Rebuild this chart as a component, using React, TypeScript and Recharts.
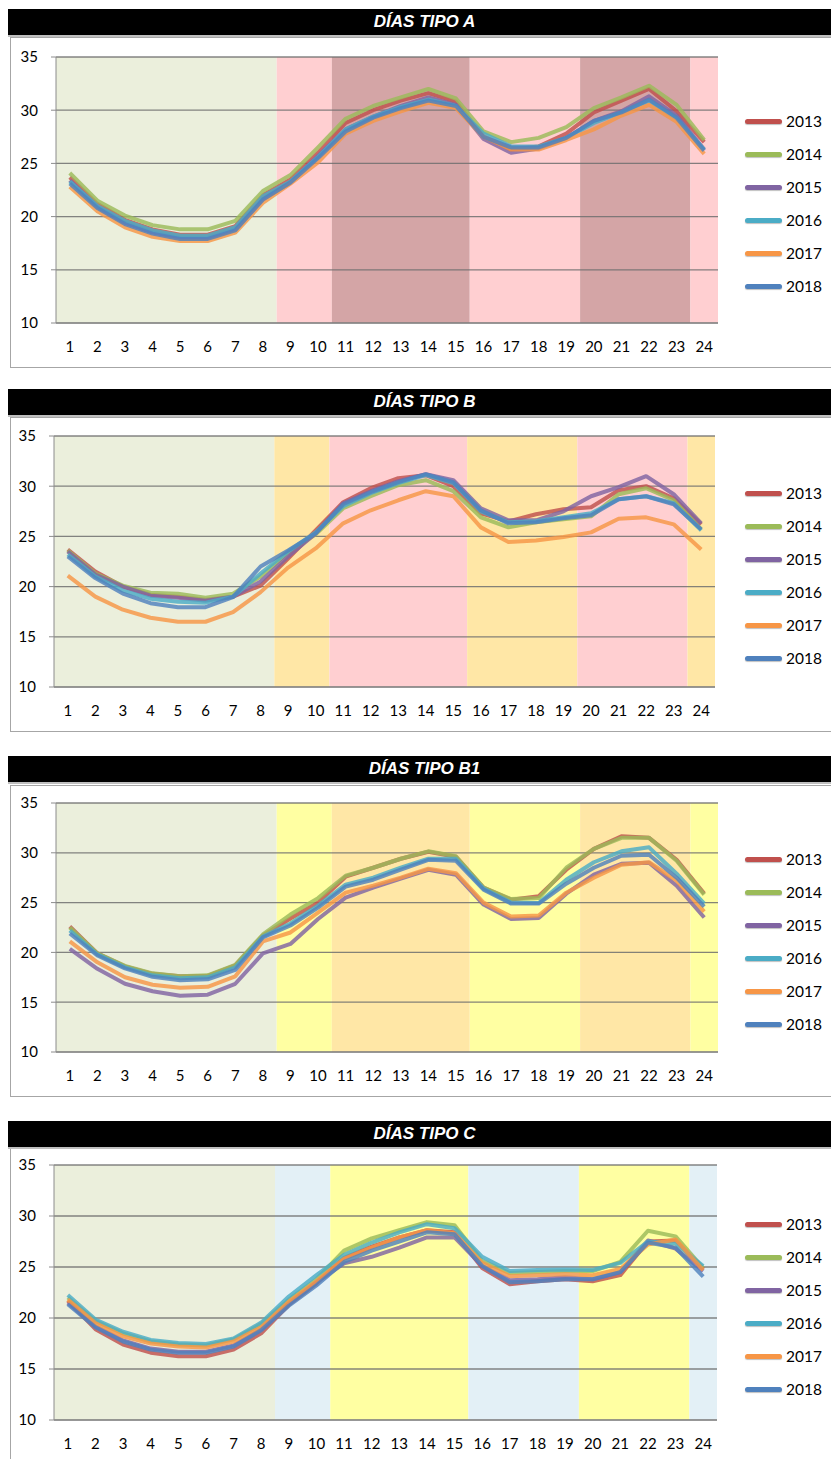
import React from 'react'
import { LineChart, Line, XAxis, YAxis, ReferenceArea, ReferenceLine, Legend } from 'recharts'

const HOURS = [1, 2, 3, 4, 5, 6, 7, 8, 9, 10, 11, 12, 13, 14, 15, 16, 17, 18, 19, 20, 21, 22, 23, 24]
const YEARS = ['2013', '2014', '2015', '2016', '2017', '2018']
const Y_TICKS = [10, 15, 20, 25, 30, 35]

// tariff periods over the day (hours)
const PERIODS = [
  { from: 1, to: 8, kind: 'valle' },
  { from: 9, to: 10, kind: 'llano' },
  { from: 11, to: 15, kind: 'punta' },
  { from: 16, to: 19, kind: 'llano' },
  { from: 20, to: 23, kind: 'punta' },
  { from: 24, to: 24, kind: 'llano' },
]

// DÍAS TIPO A
const a2013 = [23.7, 21.2, 19.7, 18.8, 18.3, 18.3, 19.1, 22.0, 23.5, 26.0, 28.8, 30.0, 30.9, 31.6, 30.8, 27.5, 26.3, 26.6, 27.8, 29.8, 30.9, 32.0, 29.9, 27.0]
const a2014 = [24.1, 21.5, 20.1, 19.2, 18.8, 18.8, 19.6, 22.4, 23.9, 26.5, 29.2, 30.4, 31.2, 32.0, 31.1, 28.0, 27.0, 27.4, 28.4, 30.2, 31.2, 32.3, 30.5, 27.2]
const a2015 = [23.4, 20.9, 19.4, 18.5, 18.0, 18.0, 18.8, 21.6, 23.2, 25.7, 28.2, 29.4, 30.4, 31.2, 30.5, 27.3, 26.0, 26.4, 27.4, 29.0, 29.9, 31.3, 29.5, 26.3]
const a2016 = [23.3, 21.0, 19.6, 18.7, 18.2, 18.2, 19.0, 21.9, 23.3, 25.6, 28.2, 29.4, 30.3, 31.0, 30.4, 27.8, 26.6, 26.6, 27.4, 28.8, 29.8, 30.9, 29.2, 26.3]
const a2017 = [22.8, 20.5, 19.0, 18.1, 17.7, 17.7, 18.5, 21.3, 23.1, 25.1, 27.8, 29.0, 29.9, 30.7, 30.2, 27.5, 26.3, 26.3, 27.2, 28.2, 29.5, 30.5, 28.9, 25.9]
const a2018 = [23.1, 20.8, 19.3, 18.4, 17.9, 17.9, 18.7, 21.6, 23.2, 25.5, 28.0, 29.3, 30.2, 30.9, 30.4, 27.5, 26.5, 26.5, 27.4, 29.0, 29.8, 31.0, 29.3, 26.2]

// DÍAS TIPO B
const b2013 = [23.7, 21.5, 20.0, 19.2, 19.0, 18.7, 19.0, 20.1, 22.8, 25.6, 28.4, 29.8, 30.8, 31.1, 30.0, 27.3, 26.5, 27.2, 27.7, 27.9, 29.6, 30.0, 28.8, 26.2]
const b2014 = [23.6, 21.3, 20.1, 19.4, 19.3, 18.9, 19.3, 21.0, 23.4, 25.2, 27.8, 29.0, 30.1, 30.6, 29.5, 26.9, 25.9, 26.4, 26.7, 27.0, 29.2, 29.8, 28.6, 25.7]
const b2015 = [23.5, 21.2, 20.0, 19.1, 18.9, 18.6, 19.0, 20.5, 23.0, 25.3, 28.3, 29.5, 30.5, 31.2, 30.6, 27.8, 26.6, 26.6, 27.5, 29.0, 29.9, 31.0, 29.2, 26.3]
const b2016 = [23.2, 21.0, 19.6, 18.8, 18.5, 18.4, 19.0, 21.3, 23.5, 25.4, 28.0, 29.3, 30.3, 31.1, 30.3, 27.5, 26.4, 26.5, 26.9, 27.3, 28.7, 29.0, 28.3, 25.6]
const b2017 = [21.1, 19.0, 17.7, 16.9, 16.5, 16.5, 17.45, 19.45, 21.9, 23.8, 26.3, 27.6, 28.6, 29.5, 29.0, 25.9, 24.45, 24.6, 24.95, 25.4, 26.75, 26.9, 26.2, 23.7]
const b2018 = [23.0, 20.85, 19.3, 18.35, 17.95, 17.95, 18.95, 22.0, 23.6, 25.3, 28.2, 29.4, 30.4, 31.2, 30.4, 27.6, 26.3, 26.4, 26.8, 27.1, 28.7, 29.0, 28.2, 25.7]

// DÍAS TIPO B1
const b1_2013 = [22.6, 19.9, 18.6, 17.85, 17.6, 17.65, 18.7, 21.7, 23.4, 25.0, 27.6, 28.5, 29.4, 30.1, 29.6, 26.5, 25.3, 25.65, 28.3, 30.4, 31.65, 31.5, 29.3, 25.9]
const b1_2014 = [22.5, 19.9, 18.65, 17.9, 17.6, 17.7, 18.75, 21.8, 23.8, 25.45, 27.7, 28.5, 29.4, 30.15, 29.65, 26.5, 25.35, 25.45, 28.5, 30.4, 31.5, 31.5, 29.2, 25.8]
const b1_2015 = [20.35, 18.35, 16.85, 16.1, 15.65, 15.75, 16.85, 19.9, 20.85, 23.35, 25.5, 26.5, 27.4, 28.3, 27.8, 24.8, 23.35, 23.45, 25.9, 27.8, 28.9, 29.0, 26.7, 23.5]
const b1_2016 = [22.2, 19.8, 18.5, 17.7, 17.4, 17.5, 18.5, 21.6, 22.9, 24.7, 26.8, 27.5, 28.5, 29.4, 29.4, 26.4, 25.0, 24.95, 27.3, 29.05, 30.15, 30.55, 27.9, 24.9]
const b1_2017 = [21.1, 19.0, 17.5, 16.75, 16.45, 16.55, 17.6, 21.1, 22.0, 24.0, 26.0, 26.7, 27.5, 28.4, 27.95, 25.0, 23.6, 23.7, 26.0, 27.5, 28.8, 29.05, 27.2, 24.1]
const b1_2018 = [21.9, 19.7, 18.4, 17.55, 17.2, 17.3, 18.25, 21.5, 22.7, 24.5, 26.6, 27.3, 28.3, 29.3, 29.2, 26.3, 24.9, 24.9, 26.9, 28.5, 29.7, 29.8, 27.5, 24.6]

// DÍAS TIPO C
const c2013 = [21.7, 18.9, 17.4, 16.6, 16.25, 16.25, 16.9, 18.5, 21.3, 23.4, 25.9, 27.0, 27.9, 28.6, 28.4, 24.9, 23.3, 23.6, 23.8, 23.6, 24.2, 27.5, 27.6, 24.8]
const c2014 = [22.0, 19.7, 18.5, 17.7, 17.4, 17.3, 17.9, 19.4, 21.8, 23.8, 26.6, 27.8, 28.6, 29.4, 29.1, 25.6, 24.4, 24.5, 24.6, 24.6, 25.5, 28.55, 28.0, 24.9]
const c2015 = [21.5, 19.2, 17.8, 17.0, 16.7, 16.7, 17.3, 18.9, 21.4, 23.5, 25.35, 26.0, 26.9, 27.9, 27.9, 25.1, 23.7, 23.8, 24.0, 23.8, 24.5, 27.6, 26.8, 24.6]
const c2016 = [22.25, 19.85, 18.65, 17.85, 17.55, 17.45, 18.0, 19.55, 22.1, 24.2, 26.2, 27.4, 28.4, 29.2, 28.8, 26.0, 24.6, 24.7, 24.75, 24.7, 25.4, 27.5, 27.3, 25.1]
const c2017 = [21.8, 19.5, 18.2, 17.5, 17.2, 17.1, 17.7, 19.1, 21.6, 23.6, 25.8, 26.9, 27.9, 28.6, 28.3, 25.4, 24.1, 24.2, 24.3, 24.2, 24.8, 27.2, 27.7, 24.7]
const c2018 = [21.35, 19.1, 17.7, 16.9, 16.6, 16.6, 17.2, 18.8, 21.2, 23.2, 25.5, 26.6, 27.5, 28.4, 28.2, 25.1, 23.5, 23.6, 23.8, 23.8, 24.5, 27.4, 26.9, 24.05]

const YEAR_COLORS: Record<string, string> = {
  '2013': '#C0504D',
  '2014': '#9BBB59',
  '2015': '#8064A2',
  '2016': '#4BACC6',
  '2017': '#F79646',
  '2018': '#4F81BD',
}

const FONT = 'Lato, "Open Sans", sans-serif'
const PAGE_W = 831
const AXIS_GREY = '#8C8C8C'

type PanelProps = {
  title: string
  series: number[][]
  colors: Record<string, string>
  barTop: number
  boxTop: number
  boxBottom: number
  plotTop: number
  plotBottom: number
  plotLeft: number
  plotRight: number
  legendTop: number
}

function LegendBox({ payload }: any) {
  return (
    <div>
      {(payload || []).map((p: any) => (
        <div key={p.value} style={{ height: 33, display: 'flex', alignItems: 'center' }}>
          <span style={{
            width: 37, height: 5, borderRadius: 3, background: p.color, marginRight: 4,
            boxShadow: '0 1px 1px rgba(0,0,0,0.25)',
          }} />
          <span style={{ fontFamily: FONT, fontSize: 15.5, color: '#000' }}>{p.value}</span>
        </div>
      ))}
    </div>
  )
}

function Panel(props: PanelProps) {
  const { title, series, colors, barTop, boxTop, boxBottom, plotTop, plotBottom, plotLeft, plotRight, legendTop } = props
  const rows = HOURS.map((h, i) => {
    const row: Record<string, number> = { hour: h }
    YEARS.forEach((y, k) => { row[y] = series[k][i] })
    return row
  })
  // tick marks sit between hours, Excel style
  const edges = [...HOURS.map((h) => h - 0.5), 24.5]
  const chartTop = plotTop - 10
  const chartH = plotBottom - plotTop + 10 + 40

  return (
    <>
      <div style={{
        position: 'absolute', left: 10, top: boxTop, width: 840, height: boxBottom - boxTop,
        border: '1.5px solid #A6A6A6', boxSizing: 'border-box', background: '#fff',
      }} />
      <div style={{
        position: 'absolute', left: 8, top: barTop, width: 833, height: 26, background: '#000',
        color: '#fff', fontFamily: '"Liberation Sans", Arial, sans-serif', fontWeight: 'bold',
        fontStyle: 'italic', fontSize: 17, lineHeight: '26px', textAlign: 'center',
        borderBottom: '2px solid #BFBFBF',
      }}>{title}</div>
      <div style={{ position: 'absolute', left: 0, top: chartTop }}>
        <LineChart
          width={PAGE_W}
          height={chartH}
          data={rows}
          margin={{ top: 10, right: PAGE_W - plotRight, bottom: 0, left: plotLeft - 46 }}
        >
          <XAxis
            xAxisId="edge"
            type="number"
            dataKey="hour"
            domain={[0.5, 24.5]}
            ticks={edges}
            interval={0}
            tick={false}
            tickSize={5}
            height={1}
            axisLine={{ stroke: AXIS_GREY }}
            tickLine={{ stroke: AXIS_GREY }}
          />
          <XAxis
            xAxisId="h"
            type="number"
            dataKey="hour"
            domain={[0.5, 24.5]}
            ticks={HOURS}
            interval={0}
            tickSize={0}
            tickMargin={17}
            height={39}
            axisLine={false}
            tickLine={false}
            tick={{ fill: '#000', fontSize: 15, fontFamily: FONT }}
          />
          <YAxis
            type="number"
            domain={[10, 35]}
            ticks={Y_TICKS}
            interval={0}
            width={46}
            tickSize={5}
            tickMargin={13}
            axisLine={{ stroke: AXIS_GREY }}
            tickLine={{ stroke: AXIS_GREY }}
            tick={{ fill: '#000', fontSize: 15, fontFamily: FONT }}
          />
          {PERIODS.map((p) => (
            <ReferenceArea
              key={p.from}
              xAxisId="h"
              x1={p.from - 0.5}
              x2={p.to + 0.5}
              y1={10}
              y2={35}
              fill={colors[p.kind]}
              fillOpacity={1}
              stroke="none"
            />
          ))}
          {Y_TICKS.map((t) => (
            <ReferenceLine key={t} xAxisId="h" y={t} stroke="#6E6E6E" strokeOpacity={0.85} strokeWidth={1.3} />
          ))}
          {YEARS.map((y) => (
            <Line
              key={y}
              xAxisId="h"
              type="linear"
              dataKey={y}
              name={y}
              stroke={YEAR_COLORS[y]}
              strokeWidth={4}
              strokeOpacity={0.82}
              strokeLinejoin="round"
              dot={false}
              isAnimationActive={false}
            />
          ))}
          <Legend
            layout="vertical"
            align="center"
            verticalAlign="middle"
            content={<LegendBox />}
            wrapperStyle={{ left: 745, top: legendTop - chartTop - 16.5, width: 80, height: 200 }}
          />
        </LineChart>
      </div>
    </>
  )
}

const VALLE = '#EBEFDC'

export default function App() {
  return (
    <div style={{ position: 'absolute', left: 0, top: 0, width: PAGE_W, height: 1459, overflow: 'hidden', background: '#fff' }}>
      <Panel
        title="DÍAS TIPO A"
        series={[a2013, a2014, a2015, a2016, a2017, a2018]}
        colors={{ valle: VALLE, llano: '#FFCFD1', punta: '#D4A5A6' }}
        barTop={9} boxTop={37} boxBottom={368}
        plotTop={57} plotBottom={323} plotLeft={56} plotRight={718} legendTop={121}
      />
      <Panel
        title="DÍAS TIPO B"
        series={[b2013, b2014, b2015, b2016, b2017, b2018]}
        colors={{ valle: VALLE, llano: '#FFE7A6', punta: '#FFCFD1' }}
        barTop={389} boxTop={417} boxBottom={732}
        plotTop={436} plotBottom={687} plotLeft={54} plotRight={715} legendTop={493}
      />
      <Panel
        title="DÍAS TIPO B1"
        series={[b1_2013, b1_2014, b1_2015, b1_2016, b1_2017, b1_2018]}
        colors={{ valle: VALLE, llano: '#FFFFA2', punta: '#FFE7A6' }}
        barTop={756} boxTop={785} boxBottom={1097}
        plotTop={803} plotBottom={1052} plotLeft={56} plotRight={718} legendTop={859}
      />
      <Panel
        title="DÍAS TIPO C"
        series={[c2013, c2014, c2015, c2016, c2017, c2018]}
        colors={{ valle: VALLE, llano: '#E3F0F6', punta: '#FFFFA2' }}
        barTop={1121} boxTop={1148} boxBottom={1480}
        plotTop={1165} plotBottom={1420} plotLeft={54} plotRight={717} legendTop={1224}
      />
    </div>
  )
}
